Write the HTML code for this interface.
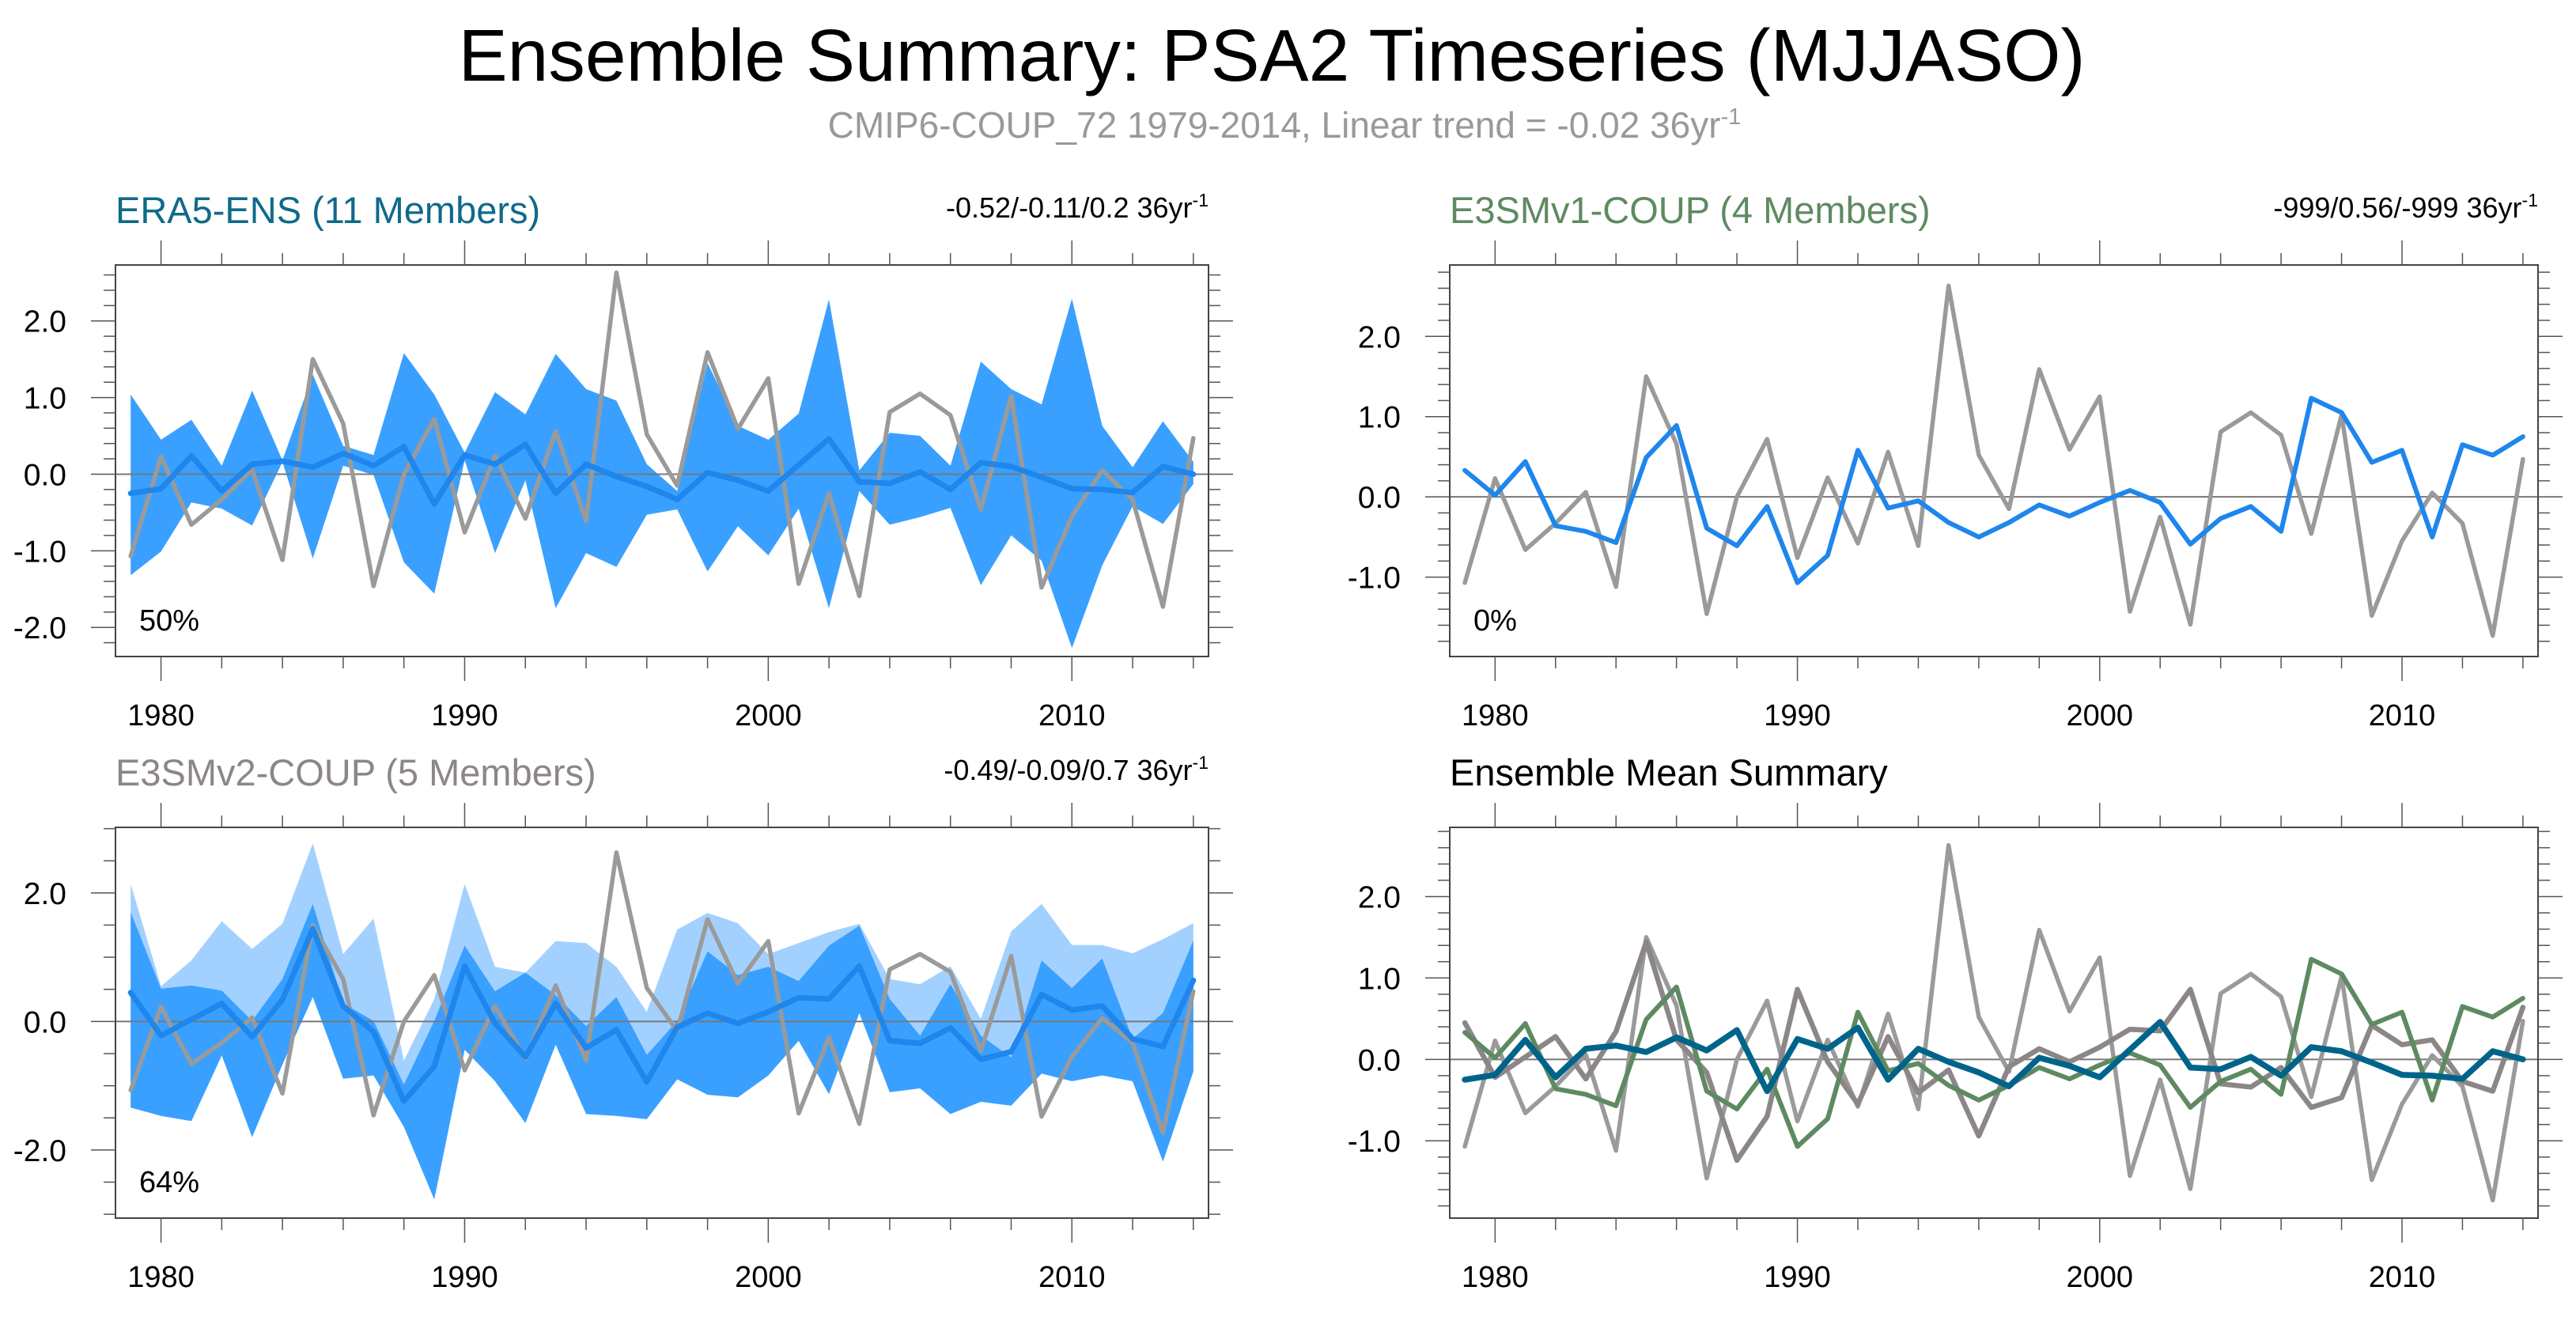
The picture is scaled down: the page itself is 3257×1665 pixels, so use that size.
<!DOCTYPE html>
<html><head><meta charset="utf-8"><style>
html,body{margin:0;padding:0;background:#fff;}
svg text{font-family:"Liberation Sans",sans-serif;}
</style></head><body>
<svg id="chart" width="3257" height="1660" viewBox="0 0 3257 1660" xmlns="http://www.w3.org/2000/svg">
<text x="1608" y="102" text-anchor="middle" font-size="93" fill="#000">Ensemble Summary: PSA2 Timeseries (MJJASO)</text>
<text x="1624" y="174" text-anchor="middle" font-size="46" fill="#999">CMIP6-COUP_72 1979-2014, Linear trend = -0.02 36yr<tspan dy="-17" font-size="29">-1</tspan></text>
</svg>
<script>
const years = [];
for (let y = 1979; y <= 2014; y++) years.push(y);
const obs = [-1.07,0.23,-0.66,-0.33,0.06,-1.12,1.50,0.66,-1.46,0.0,0.72,-0.76,0.24,-0.58,0.56,-0.61,2.63,0.52,-0.15,1.59,0.59,1.25,-1.43,-0.25,-1.59,0.81,1.05,0.77,-0.46,1.02,-1.48,-0.55,0.05,-0.33,-1.73,0.47];
const era5Mean = [-0.25,-0.19,0.24,-0.22,0.13,0.17,0.09,0.27,0.11,0.36,-0.39,0.25,0.13,0.39,-0.25,0.13,-0.03,-0.16,-0.33,0.02,-0.08,-0.22,0.12,0.46,-0.10,-0.12,0.03,-0.20,0.15,0.10,-0.04,-0.19,-0.20,-0.24,0.10,0.0];
const era5Hi = [1.04,0.45,0.71,0.11,1.09,0.18,1.30,0.37,0.25,1.58,1.04,0.28,1.07,0.78,1.57,1.11,0.96,0.13,-0.22,1.45,0.63,0.45,0.79,2.28,0.05,0.54,0.50,0.11,1.47,1.11,0.91,2.29,0.63,0.09,0.69,0.16];
const era5Lo = [-1.32,-1.01,-0.37,-0.45,-0.67,0.16,-1.10,0.11,-0.01,-1.15,-1.56,0.18,-1.03,-0.08,-1.75,-1.03,-1.21,-0.53,-0.46,-1.27,-0.68,-1.06,-0.45,-1.75,-0.22,-0.66,-0.56,-0.44,-1.45,-0.80,-1.13,-2.27,-1.19,-0.42,-0.65,-0.13];
const v1Mean = [0.33,0.02,0.44,-0.36,-0.43,-0.57,0.49,0.89,-0.39,-0.61,-0.12,-1.07,-0.73,0.58,-0.14,-0.05,-0.32,-0.50,-0.32,-0.10,-0.24,-0.07,0.08,-0.07,-0.59,-0.27,-0.12,-0.43,1.23,1.05,0.43,0.58,-0.50,0.65,0.52,0.75];
const v2Mean = [0.45,-0.22,0.03,0.28,-0.24,0.34,1.44,0.24,-0.16,-1.24,-0.70,0.86,-0.03,-0.55,0.28,-0.41,-0.13,-0.94,-0.09,0.13,-0.03,0.15,0.37,0.35,0.86,-0.30,-0.34,-0.10,-0.59,-0.47,0.42,0.18,0.24,-0.27,-0.39,0.64];
const v2Hi = [1.70,0.51,0.56,0.48,0.01,0.66,1.83,0.28,0.01,-0.98,0.01,1.18,0.47,0.76,0.41,-0.07,0.38,-0.52,0.01,1.09,0.72,0.85,0.63,1.18,1.49,0.35,-0.22,0.58,-0.22,-0.56,0.95,0.52,0.98,-0.27,0.13,1.26];
const v2Lo = [-1.34,-1.47,-1.55,-0.53,-1.80,-0.67,0.38,-0.89,-0.84,-1.64,-2.77,-0.44,-0.93,-1.58,-0.36,-1.44,-1.47,-1.52,-0.90,-1.14,-1.18,-0.84,-0.30,-1.13,0.13,-1.10,-1.04,-1.44,-1.25,-1.31,-0.81,-0.93,-0.84,-0.93,-2.18,-0.78];
const v2HiOuter = [2.14,0.55,0.95,1.56,1.13,1.52,2.77,1.05,1.60,-0.61,0.35,2.14,0.85,0.76,1.25,1.22,0.85,0.15,1.43,1.69,1.53,1.05,1.22,1.39,1.52,0.66,0.58,0.86,0.04,1.40,1.83,1.19,1.19,1.06,1.28,1.53];

const NS = "http://www.w3.org/2000/svg";
const svg = document.getElementById('chart');
function mk(tag, attrs, parent) {
  const e = document.createElementNS(NS, tag);
  for (const k in attrs) e.setAttribute(k, attrs[k]);
  (parent || svg).appendChild(e);
  return e;
}
function panel(p) {
  const g = mk('g', {});
  
  
  const X = yr => p.x0 + (yr - 1978.5) * (p.x1 - p.x0) / 36;
  const Y = v => p.y0 + (p.ymax - v) * (p.y1 - p.y0) / (p.ymax - p.ymin);
  const title = mk('text', {x: p.x0, y: p.y0 - 53, 'font-size': 47, fill: p.titleColor}, g);
  title.textContent = p.title;
  
  
  if (p.trend) {
    const t = mk('text', {x: p.x1, y: p.y0 - 60, 'font-size': 36, fill: '#000', 'text-anchor': 'end'}, g);
    t.textContent = p.trend;
    const sup = mk('tspan', {dy: -14, 'font-size': 23}, t);
    sup.textContent = '-1';
    
    
  }
  const bands = p.bands || [];
  bands.forEach(b => {
    let d = '';
    years.forEach((yr, i) => { d += (i ? 'L' : 'M') + X(yr).toFixed(1) + ',' + Y(b.hi[i]).toFixed(1); });
    for (let i = years.length - 1; i >= 0; i--) d += 'L' + X(years[i]).toFixed(1) + ',' + Y(b.lo[i]).toFixed(1);
    const path = mk('path', {d: d + 'Z', fill: b.color, stroke: 'none'}, g);
    
    
  });
  const zl = mk('line', {x1: p.x0, x2: p.x1, y1: Y(0), y2: Y(0), stroke: '#777', 'stroke-width': 2}, g);
  
  
  p.lines.forEach(l => {
    const pts = years.map((yr, i) => X(yr).toFixed(1) + ',' + Y(l.v[i]).toFixed(1)).join(' ');
    const pl = mk('polyline', {points: pts, fill: 'none', stroke: l.color, 'stroke-width': l.w, 'stroke-linejoin': 'round', 'stroke-linecap': 'round'}, g);
    
    
  });
  const box = mk('rect', {x: p.x0, y: p.y0, width: p.x1 - p.x0, height: p.y1 - p.y0, fill: 'none', stroke: '#444', 'stroke-width': 2}, g);
  
  
  for (let yr = 1980; yr <= 2014; yr += 2) {
    const major = yr % 10 === 0;
    const L = major ? 31 : 15;
    mk('line', {x1: X(yr), x2: X(yr), y1: p.y0, y2: p.y0 - L, stroke: '#555', 'stroke-width': 1.5}, g);
    mk('line', {x1: X(yr), x2: X(yr), y1: p.y1, y2: p.y1 + L, stroke: '#555', 'stroke-width': 1.5}, g);
    if (major) {
      const t = mk('text', {x: X(yr), y: p.y1 + 87, 'font-size': 38, 'text-anchor': 'middle', fill: '#000'}, g);
      t.textContent = yr;
      
      
    }
  }
  const n0 = Math.ceil(p.ymin / p.minor - 1e-6), n1 = Math.floor(p.ymax / p.minor + 1e-6);
  for (let n = n0; n <= n1; n++) {
    const v = n * p.minor;
    const major = Math.abs(v / p.major - Math.round(v / p.major)) < 1e-6;
    const L = major ? 31 : 15;
    const yy = Y(v);
    mk('line', {x1: p.x0, x2: p.x0 - L, y1: yy, y2: yy, stroke: '#555', 'stroke-width': 1.5}, g);
    mk('line', {x1: p.x1, x2: p.x1 + L, y1: yy, y2: yy, stroke: '#555', 'stroke-width': 1.5}, g);
    if (major) {
      const t = mk('text', {x: p.x0 - 62, y: yy + 14, 'font-size': 39, 'text-anchor': 'end', fill: '#000'}, g);
      t.textContent = v.toFixed(1);
      
      
    }
  }
  if (p.pct) {
    const t = mk('text', {x: p.x0 + 30, y: p.y1 - 33, 'font-size': 38, fill: '#000'}, g);
    t.textContent = p.pct;
    
    
  }
}
const GRAY = '#9a9a9a', BAND = '#3aa0ff', BAND2 = '#a3d1ff', MEAN = '#1e86ec';
panel({name: 'era5-panel', x0: 146, x1: 1528, y0: 335, y1: 830, ymin: -2.38, ymax: 2.73, major: 1, minor: 0.2,
  title: 'ERA5-ENS (11 Members)', titleColor: '#0e6a8a', trend: '-0.52/-0.11/0.2 36yr', pct: '50%',
  bands: [{hi: era5Hi, lo: era5Lo, color: BAND}],
  lines: [{v: obs, color: GRAY, w: 5.5, name: 'observed-line'}, {v: era5Mean, color: MEAN, w: 7, name: 'ensemble-mean-line'}]});
panel({name: 'e3smv1-panel', x0: 1833, x1: 3209, y0: 335, y1: 830, ymin: -1.99, ymax: 2.89, major: 1, minor: 0.2,
  title: 'E3SMv1-COUP (4 Members)', titleColor: '#5e8a62', trend: '-999/0.56/-999 36yr', pct: '0%',
  lines: [{v: obs, color: GRAY, w: 5.5, name: 'observed-line'}, {v: v1Mean, color: MEAN, w: 6, name: 'ensemble-mean-line'}]});
panel({name: 'e3smv2-panel', x0: 146, x1: 1528, y0: 1046, y1: 1540, ymin: -3.06, ymax: 3.02, major: 2, minor: 0.5,
  title: 'E3SMv2-COUP (5 Members)', titleColor: '#8c8687', trend: '-0.49/-0.09/0.7 36yr', pct: '64%',
  bands: [{hi: v2HiOuter, lo: v2Lo, color: BAND2}, {hi: v2Hi, lo: v2Lo, color: BAND}],
  lines: [{v: obs, color: GRAY, w: 5.5, name: 'observed-line'}, {v: v2Mean, color: MEAN, w: 7, name: 'ensemble-mean-line'}]});
panel({name: 'ensemble-mean-summary-panel', x0: 1833, x1: 3209, y0: 1046, y1: 1540, ymin: -1.95, ymax: 2.85, major: 1, minor: 0.2,
  title: 'Ensemble Mean Summary', titleColor: '#000',
  lines: [{v: obs, color: GRAY, w: 5.5, name: 'observed-line'},
          {v: v2Mean, color: '#8c8687', w: 6.5, name: 'e3smv2-mean-line'},
          {v: v1Mean, color: '#5e8a62', w: 6, name: 'e3smv1-mean-line'},
          {v: era5Mean, color: '#00648a', w: 7.5, name: 'era5-mean-line'}]});
</script>
</body></html>
